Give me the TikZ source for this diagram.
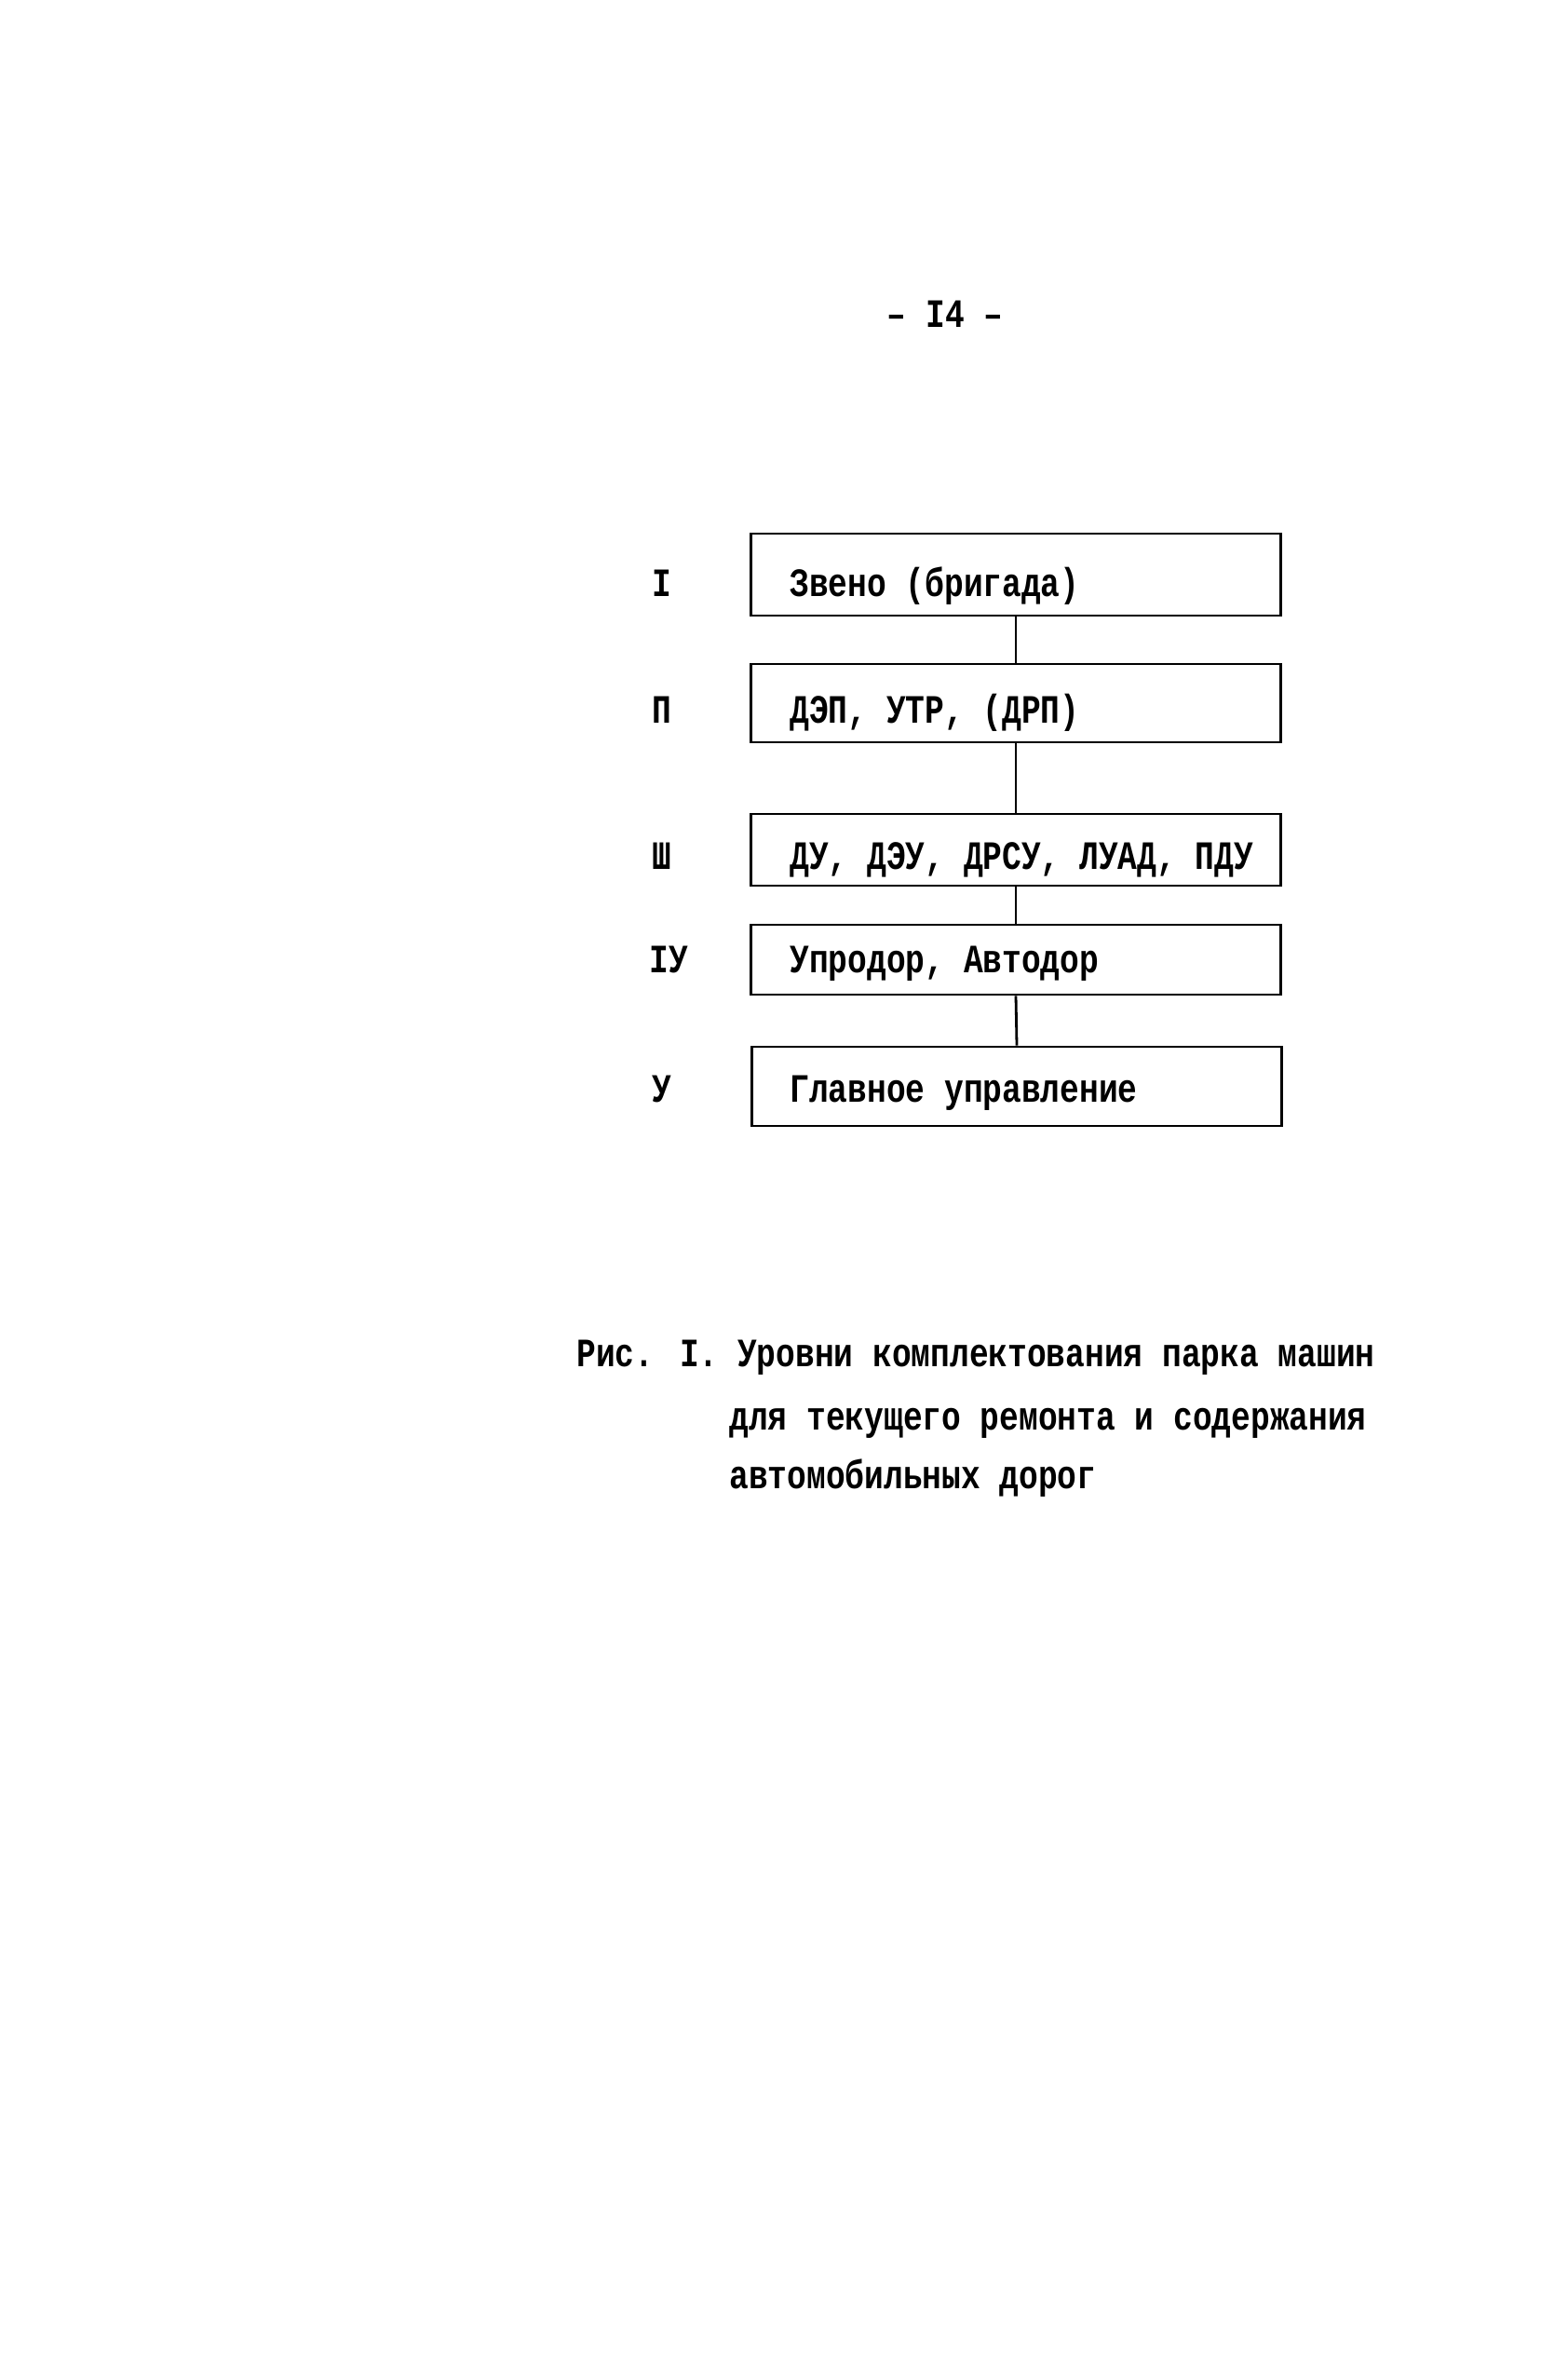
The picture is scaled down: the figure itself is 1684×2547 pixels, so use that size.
\documentclass[tikz,border=0pt]{standalone}
\usepackage{fontspec}
\setmainfont{Liberation Mono}[FakeStretch=0.8]
\begin{document}
\begin{tikzpicture}[x=0.5pt,y=-0.5pt,
  tw/.style={font=\fontsize{21.6pt}{26pt}\selectfont\bfseries, inner sep=0pt},
  levelbox/.style={draw, line width=1.4pt, inner sep=0pt, minimum width=284.5pt},
  boxtext/.style={tw, anchor=base west},
  lbl/.style={tw, anchor=base},
  conn/.style={line width=1.4pt}]
\fill[white] (0,0) rectangle (1684,2547);
\useasboundingbox (0,0) rectangle (1684,2547);

\node[tw, anchor=base] (pg) at (1015,351) {– I4 –};

\node[levelbox, minimum height=44pt]   (b1) at (1091,617)    {};
\node[levelbox, minimum height=42pt]   (b2) at (1091,755)    {};
\node[levelbox, minimum height=38.5pt] (b3) at (1091,912.5)  {};
\node[levelbox, minimum height=37.5pt] (b4) at (1091,1030.5) {};
\node[levelbox, minimum height=42.5pt] (b5) at (1092,1166.5) {};

\node[boxtext] (t1) at (848,640)  {Звено (бригада)};
\node[boxtext] (t2) at (848,776)  {ДЭП, УТР, (ДРП)};
\node[boxtext] (t3) at (848,933)  {ДУ, ДЭУ, ДРСУ, ЛУАД, ПДУ};
\node[boxtext] (t4) at (848,1044) {Упродор, Автодор};
\node[boxtext] (t5) at (848,1183) {Главное управление};

\node[lbl] (l1) at (711,640)  {I};
\node[lbl] (l2) at (711,776)  {П};
\node[lbl] (l3) at (711,933)  {Ш};
\node[lbl] (l4) at (718,1044) {IУ};
\node[lbl] (l5) at (711,1183) {У};

\draw[conn] (b1.south) -- (b2.north);
\draw[conn] (b2.south) -- (b3.north);
\draw[conn] (b3.south) -- (b4.north);
\draw[conn] (b4.south) -- (b5.north);

\node[tw, anchor=base west] (c1) at (619,1467) {Рис. I. Уровни комплектования парка машин};
\node[tw, anchor=base west] (c2) at (783,1535) {для текущего ремонта и содержания};
\node[tw, anchor=base west] (c3) at (783,1598) {автомобильных дорог};
\end{tikzpicture}
\end{document}
